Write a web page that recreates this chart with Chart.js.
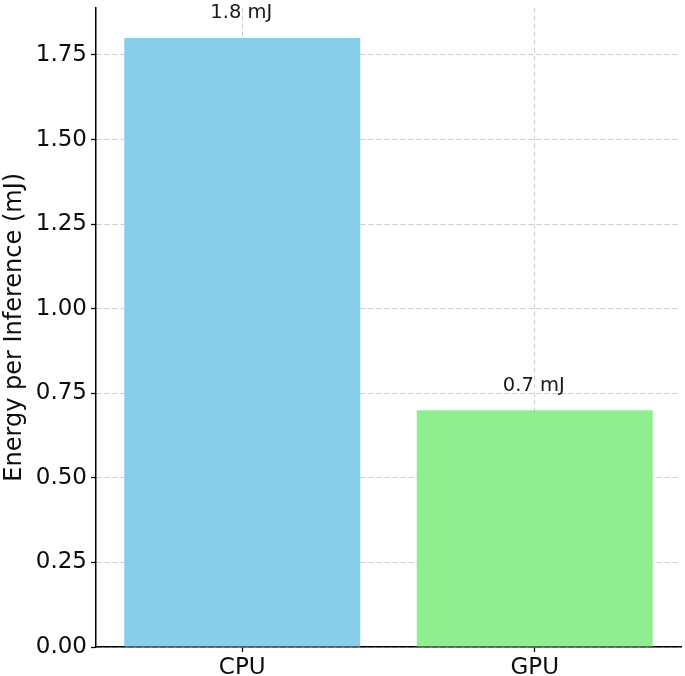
<!DOCTYPE html>
<html>
<head>
<meta charset="utf-8">
<script src="https://cdn.jsdelivr.net/npm/chart.js@4.4.1/dist/chart.umd.min.js"></script>
<style>
  html, body { margin: 0; padding: 0; background: #fff; }
  #wrap { width: 685px; height: 676px; }
</style>
</head>
<body>
<div id="wrap"><canvas id="energyChart" width="685" height="676"></canvas></div>
<script>
// --- data ---
const categories = ["CPU", "GPU"];
const energyValues = [1.8, 0.7];
const barLabels = ["1.8 mJ", "0.7 mJ"];
const barColors = ["#87CEEB", "#90EE90"];
const yTickValues = [0, 0.25, 0.5, 0.75, 1.0, 1.25, 1.5, 1.75];

const FONT = "'DejaVu Sans', sans-serif";

// --- value text above each bar (matplotlib-style ax.text(..., va="bottom")) ---
const valueLabels = {
  id: "valueLabels",
  afterDatasetsDraw(chart) {
    const ctx = chart.ctx;
    const meta = chart.getDatasetMeta(0);
    const y = chart.scales.y;
    ctx.save();
    ctx.font = "19.5px " + FONT;
    ctx.fillStyle = "#1a1a1a";
    ctx.textAlign = "center";
    ctx.textBaseline = "bottom";
    meta.data.forEach((bar, i) => {
      ctx.fillText(barLabels[i], bar.x - 1, y.getPixelForValue(energyValues[i] + 0.05) + 2);
    });
    ctx.restore();
  }
};

const gridStyle = {
  color: "#cccccc",
  lineWidth: 1,
  drawTicks: true,
  tickLength: 5,
  tickColor: "#000",
  tickWidth: 1.3,
  tickBorderDash: []
};

new Chart(document.getElementById("energyChart"), {
  type: "bar",
  data: {
    labels: categories,
    datasets: [{
      data: energyValues,
      backgroundColor: barColors,
      borderWidth: 0,
      categoryPercentage: 1,
      barPercentage: 0.807
    }]
  },
  plugins: [valueLabels],
  options: {
    responsive: false,
    animation: false,
    devicePixelRatio: 1,
    layout: { padding: { top: 7.6, right: 4, left: 0, bottom: 0 } },
    plugins: { legend: { display: false }, tooltip: { enabled: false } },
    scales: {
      x: {
        z: 1,
        offset: true,
        grid: Object.assign({}, gridStyle, { offset: false }),
        border: { display: true, color: "#000", width: 1.5, dash: [5, 3] },
        ticks: { color: "#0d0d0d", font: { family: FONT, size: 23 }, padding: 2 },
        afterFit(s) { s.height = 29; s.paddingLeft = 0; s.paddingRight = 0; }
      },
      y: {
        z: 1,
        min: 0,
        max: 1.89,
        grid: gridStyle,
        border: { display: true, color: "#000", width: 1.5, dash: [5, 3] },
        ticks: {
          includeBounds: false,
          color: "#0d0d0d",
          font: { family: FONT, size: 23 },
          padding: 4,
          callback: v => Number(v).toFixed(2)
        },
        afterBuildTicks(s) { s.ticks = yTickValues.map(v => ({ value: v })); },
        title: {
          display: true,
          text: "Energy per Inference (mJ)",
          color: "#0d0d0d",
          font: { family: FONT, size: 24 },
          padding: { top: 0, bottom: 0 }
        },
        afterFit(s) { s.width = 96; s.paddingTop = 0; s.paddingBottom = 0; }
      }
    }
  }
});
</script>
</body>
</html>
